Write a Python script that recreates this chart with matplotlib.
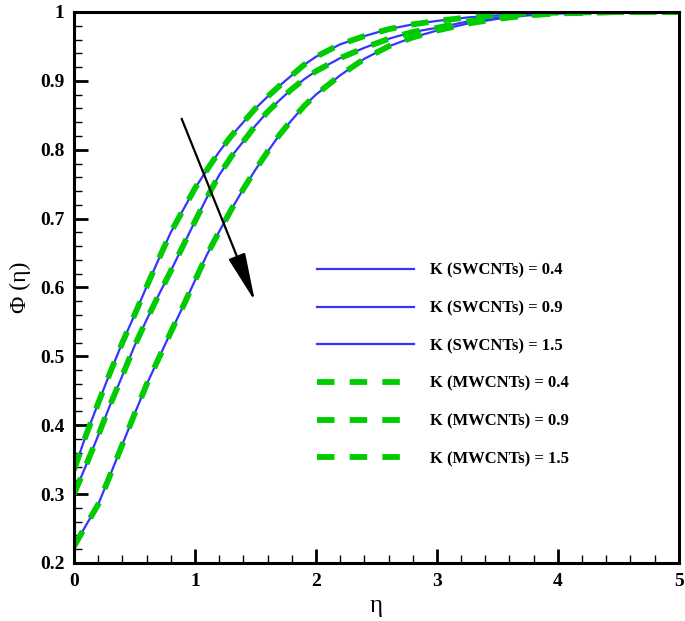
import numpy as np
import matplotlib
matplotlib.use("Agg")
import matplotlib.pyplot as plt
from matplotlib.ticker import MultipleLocator

plt.rcParams['font.family'] = ['Liberation Serif', 'DejaVu Serif']

# values
eta = [0, 0.1, 0.2, 0.3, 0.4, 0.5, 0.6, 0.7, 0.8, 0.9, 1.0, 1.1, 1.2, 1.3, 1.4,
       1.5, 1.6, 1.7, 1.8, 1.9, 2.0, 2.2, 2.4, 2.6, 2.8, 3.0, 3.25, 3.5, 3.75,
       4.0, 4.5, 5.0]
phi_k04 = [0.335, 0.386, 0.432, 0.477, 0.520, 0.560, 0.601, 0.641, 0.680, 0.712,
           0.744, 0.771, 0.797, 0.820, 0.840, 0.860, 0.877, 0.893, 0.908, 0.923,
           0.935, 0.953, 0.965, 0.975, 0.982, 0.987, 0.992, 0.995, 0.998, 0.999,
           1.0, 1.0]
phi_k09 = [0.300, 0.342, 0.385, 0.430, 0.472, 0.515, 0.553, 0.589, 0.624, 0.660,
           0.696, 0.731, 0.763, 0.790, 0.812, 0.835, 0.855, 0.872, 0.888, 0.902,
           0.914, 0.933, 0.948, 0.961, 0.971, 0.977, 0.986, 0.992, 0.996, 0.998,
           1.0, 1.0]
phi_k15 = [0.224, 0.255, 0.285, 0.328, 0.372, 0.416, 0.459, 0.497, 0.535, 0.572,
           0.610, 0.648, 0.681, 0.713, 0.743, 0.771, 0.797, 0.822, 0.843, 0.863,
           0.880, 0.908, 0.932, 0.950, 0.963, 0.973, 0.983, 0.990, 0.995, 0.998,
           1.0, 1.0]
k_values = ['0.4', '0.9', '1.5']
curves = [phi_k04, phi_k09, phi_k15]

fig = plt.figure(figsize=(6.85, 6.21), dpi=100)
ax = fig.add_axes([0.108, 0.0934, 0.883, 0.8873])

for k, c in zip(k_values, curves):
    ax.plot(eta, c, color='#3535ff', lw=1.6, label='K (SWCNTs) = ' + k)
for k, c in zip(k_values, curves):
    ax.plot(eta, c, color='#00cc00', lw=4.2, ls=(0, (3.0, 2.6)),
            label='K (MWCNTs) = ' + k)

ax.annotate('', xy=(1.496, 0.580), xytext=(0.89, 0.845),
            arrowprops=dict(arrowstyle='-|>,head_length=3.0,head_width=0.55',
                            color='black', lw=1.6, shrinkA=0, shrinkB=0))

ax.set_xlim(0, 5)
ax.set_ylim(0.2, 1.0)
ax.xaxis.set_minor_locator(MultipleLocator(0.2))
ax.yaxis.set_minor_locator(MultipleLocator(0.02))
ax.set_xticks([0, 1, 2, 3, 4, 5], ['0', '1', '2', '3', '4', '5'])
ax.set_yticks([0.2, 0.3, 0.4, 0.5, 0.6, 0.7, 0.8, 0.9, 1.0],
              ['0.2', '0.3', '0.4', '0.5', '0.6', '0.7', '0.8', '0.9', '1'])
ax.tick_params(which='major', direction='in', length=10, width=2, pad=7)
ax.tick_params(which='minor', direction='in', length=5.5, width=1)
for lab in ax.get_xticklabels() + ax.get_yticklabels():
    lab.set_fontweight('bold')
    lab.set_fontsize(14)
for s in ax.spines.values():
    s.set_linewidth(2.2)

ax.set_xlabel('η', fontsize=18, labelpad=4)
ax.set_ylabel('Φ (η)', fontsize=17, labelpad=6)

ax.legend(loc='upper left', bbox_to_anchor=(0.377, 0.572), frameon=False,
          handlelength=5.8, handletextpad=0.95, labelspacing=1.3,
          prop={'weight': 'bold', 'size': 12})

fig.savefig('out.png', dpi=100)
